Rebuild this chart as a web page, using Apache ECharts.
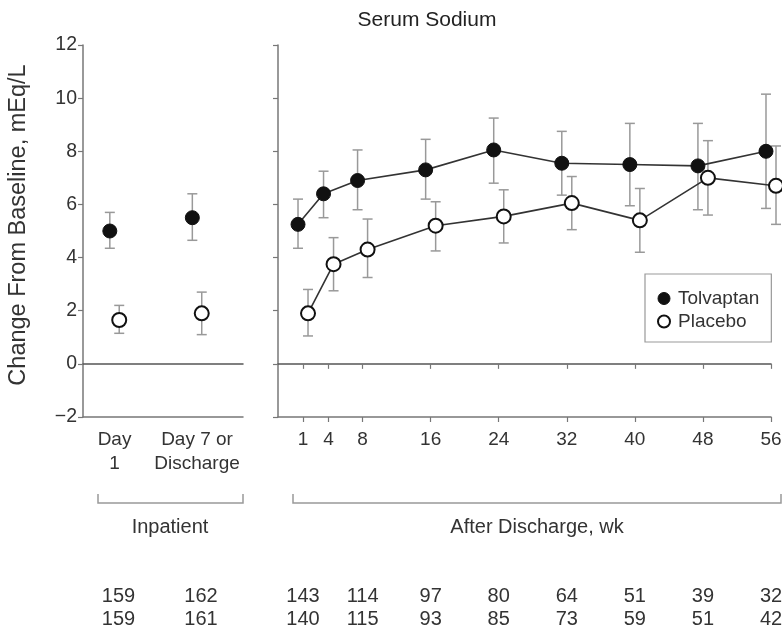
<!DOCTYPE html>
<html>
<head>
<meta charset="utf-8">
<script src="https://cdn.jsdelivr.net/npm/echarts@6/dist/echarts.min.js"></script>
<style>html,body{margin:0;padding:0;background:#fff;}#c{width:782px;height:631px;}</style>
</head>
<body>
<div id="c"></div>
<script>
// ---------- data ----------
const inpatientPos = [1, 2];
const inpatientLabels = ['Day\n1', 'Day 7 or\nDischarge'];
const tolInp = [5.0, 5.5];
const tolInpHi = [5.7, 6.4];
const tolInpLo = [4.35, 4.65];
const plaInp = [1.65, 1.9];
const plaInpHi = [2.2, 2.7];
const plaInpLo = [1.15, 1.1];

const weeks = [1, 4, 8, 16, 24, 32, 40, 48, 56];
const tolWk = [5.25, 6.4, 6.9, 7.3, 8.05, 7.55, 7.5, 7.45, 8.0];
const tolWkHi = [6.2, 7.25, 8.05, 8.45, 9.25, 8.75, 9.05, 9.05, 10.15];
const tolWkLo = [4.35, 5.5, 5.8, 6.2, 6.8, 6.35, 5.95, 5.8, 5.85];
const plaWk = [1.9, 3.75, 4.3, 5.2, 5.55, 6.05, 5.4, 7.0, 6.7];
const plaWkHi = [2.8, 4.75, 5.45, 6.1, 6.55, 7.05, 6.6, 8.4, 8.2];
const plaWkLo = [1.05, 2.75, 3.25, 4.25, 4.55, 5.05, 4.2, 5.6, 5.25];

const nInpTol = [159, 162];
const nInpPla = [159, 161];
const nWeeks = [1, 8, 16, 24, 32, 40, 48, 56];
const nWkTol = [143, 114, 97, 80, 64, 51, 39, 32];
const nWkPla = [140, 115, 93, 85, 73, 59, 51, 42];

// ---------- layout / style ----------
const FONT = 'Liberation Sans, Arial, Helvetica, sans-serif';
const TXT = '#333';
const AX = '#777';
const ERR = '#999';
const LEFT = {min: 0.618, max: 2.557, shift: 0.057};
const RIGHT = {min: -1.94, max: 56, shift: 0.588};

function errRender(params, api) {
  const x = api.value(0), lo = api.value(1), hi = api.value(2);
  const a = api.coord([x, lo]), b = api.coord([x, hi]);
  const w = 5;
  const st = {stroke: ERR, lineWidth: 1.5};
  return {type: 'group', children: [
    {type: 'line', shape: {x1: a[0], y1: a[1], x2: b[0], y2: b[1]}, style: st},
    {type: 'line', shape: {x1: b[0] - w, y1: b[1], x2: b[0] + w, y2: b[1]}, style: st},
    {type: 'line', shape: {x1: a[0] - w, y1: a[1], x2: a[0] + w, y2: a[1]}, style: st}
  ]};
}
const zip = (xs, a) => xs.map((x, i) => [x, a[i]]);
const zip3 = (xs, a, b) => xs.map((x, i) => [x, a[i], b[i]]);

const tolStyle = {color: '#111', borderColor: '#111', borderWidth: 1, opacity: 1};
const plaStyle = {color: '#fff', borderColor: '#111', borderWidth: 2, opacity: 1};

const hiddenX = (g, min, max) => ({type: 'value', gridIndex: g, min, max, show: false,
  axisLine: {onZero: false}});

const chart = echarts.init(document.getElementById('c'), null, {renderer: 'canvas'});
const option = {
  animation: false,
  backgroundColor: '#fff',
  textStyle: {fontFamily: FONT},
  title: {text: 'Serum Sodium', left: 427, top: 10, padding: 0, textAlign: 'center',
    textStyle: {fontSize: 21, fontWeight: 'normal', color: '#222', fontFamily: FONT}},
  legend: {
    orient: 'vertical', left: 645, top: 274,
    padding: [15, 12, 11, 12], itemGap: 4, itemWidth: 12, itemHeight: 12,
    borderColor: '#999', borderWidth: 1.2, icon: 'circle',
    textStyle: {fontSize: 19, color: TXT, fontFamily: FONT, padding: [0, 0, 0, 3]},
    data: [
      {name: 'Tolvaptan', itemStyle: tolStyle},
      {name: 'Placebo', itemStyle: plaStyle}
    ]
  },
  grid: [
    {left: 83, top: 45, width: 160, height: 372, containLabel: false, outerBoundsMode: 'none'},
    {left: 278, top: 45, width: 493, height: 372, containLabel: false, outerBoundsMode: 'none'}
  ],
  xAxis: [
    // 0: left bottom visible axis
    {type: 'value', gridIndex: 0, min: LEFT.min, max: LEFT.max, position: 'bottom',
      axisLine: {onZero: false, lineStyle: {color: AX, width: 1.5}},
      axisTick: {show: false}, splitLine: {show: false},
      axisLabel: {customValues: inpatientPos, margin: 11, fontSize: 19, lineHeight: 24, color: TXT,
        fontFamily: FONT, formatter: v => inpatientLabels[inpatientPos.indexOf(v)] || ''}},
    // 1,2: shifted axes for left grid
    hiddenX(0, LEFT.min + LEFT.shift, LEFT.max + LEFT.shift),
    hiddenX(0, LEFT.min - LEFT.shift, LEFT.max - LEFT.shift),
    // 3: right bottom visible axis
    {type: 'value', gridIndex: 1, min: RIGHT.min, max: RIGHT.max, position: 'bottom',
      axisLine: {onZero: false, lineStyle: {color: AX, width: 1.5}},
      axisTick: {show: true, customValues: weeks, length: 5, inside: false, lineStyle: {color: AX, width: 1.2}},
      splitLine: {show: false},
      axisLabel: {customValues: weeks, margin: 11, fontSize: 19, lineHeight: 24, color: TXT, fontFamily: FONT}},
    // 4,5: shifted axes for right grid
    hiddenX(1, RIGHT.min + RIGHT.shift, RIGHT.max + RIGHT.shift),
    hiddenX(1, RIGHT.min - RIGHT.shift, RIGHT.max - RIGHT.shift),
    // 6: left zero line
    {type: 'value', gridIndex: 0, min: LEFT.min, max: LEFT.max, position: 'bottom',
      axisLine: {onZero: true, onZeroAxisIndex: 0, lineStyle: {color: '#555', width: 1.5}},
      axisTick: {show: false}, axisLabel: {show: false}, splitLine: {show: false}},
    // 7: right zero line with ticks
    {type: 'value', gridIndex: 1, min: RIGHT.min, max: RIGHT.max, position: 'bottom',
      axisLine: {onZero: true, onZeroAxisIndex: 1, lineStyle: {color: '#555', width: 1.5}},
      axisTick: {show: true, customValues: weeks, length: 5, inside: false, lineStyle: {color: AX, width: 1.2}},
      axisLabel: {show: false}, splitLine: {show: false}},
    // 8: left counts
    {type: 'value', gridIndex: 0, min: LEFT.min, max: LEFT.max, position: 'bottom', offset: 160,
      axisLine: {show: false, onZero: false}, axisTick: {show: false}, splitLine: {show: false},
      axisLabel: {customValues: inpatientPos, margin: 8, fontSize: 20, lineHeight: 23, color: TXT,
        fontFamily: FONT, padding: [0, 0, 0, 8],
        formatter: v => { const i = inpatientPos.indexOf(v); return i < 0 ? '' : nInpTol[i] + '\n' + nInpPla[i]; }}},
    // 9: right counts
    {type: 'value', gridIndex: 1, min: RIGHT.min, max: RIGHT.max, position: 'bottom', offset: 160,
      axisLine: {show: false, onZero: false}, axisTick: {show: false}, splitLine: {show: false},
      axisLabel: {customValues: nWeeks, margin: 8, fontSize: 20, lineHeight: 23, color: TXT, fontFamily: FONT,
        formatter: v => { const i = nWeeks.indexOf(v); return i < 0 ? '' : nWkTol[i] + '\n' + nWkPla[i]; }}}
  ],
  yAxis: [
    {type: 'value', gridIndex: 0, min: -2, max: 12, interval: 2,
      name: 'Change From Baseline, mEq/L', nameLocation: 'middle', nameGap: 52,
      nameTextStyle: {fontSize: 23.5, color: TXT, fontFamily: FONT, padding: [0, 0, 0, 12]},
      axisLine: {show: true, onZero: false, lineStyle: {color: AX, width: 1.5}},
      axisTick: {show: true, length: 5, lineStyle: {color: AX, width: 1.2}},
      splitLine: {show: false},
      axisLabel: {fontSize: 19.5, color: TXT, margin: 6, fontFamily: FONT,
        formatter: v => String(v).replace('-', '\u2212')}},
    {type: 'value', gridIndex: 1, min: -2, max: 12, interval: 2,
      axisLine: {show: true, onZero: false, lineStyle: {color: AX, width: 1.5}},
      axisTick: {show: true, length: 5, lineStyle: {color: AX, width: 1.2}},
      splitLine: {show: false}, axisLabel: {show: false}}
  ],
  series: [
    // error bars
    {type: 'custom', name: 'tolInpErr', xAxisIndex: 1, yAxisIndex: 0, renderItem: errRender,
      encode: {x: 0, y: [1, 2]}, data: zip3(inpatientPos, tolInpLo, tolInpHi), z: 1, silent: true, clip: false},
    {type: 'custom', name: 'plaInpErr', xAxisIndex: 2, yAxisIndex: 0, renderItem: errRender,
      encode: {x: 0, y: [1, 2]}, data: zip3(inpatientPos, plaInpLo, plaInpHi), z: 1, silent: true, clip: false},
    {type: 'custom', name: 'tolWkErr', xAxisIndex: 4, yAxisIndex: 1, renderItem: errRender,
      encode: {x: 0, y: [1, 2]}, data: zip3(weeks, tolWkLo, tolWkHi), z: 1, silent: true, clip: false},
    {type: 'custom', name: 'plaWkErr', xAxisIndex: 5, yAxisIndex: 1, renderItem: errRender,
      encode: {x: 0, y: [1, 2]}, data: zip3(weeks, plaWkLo, plaWkHi), z: 1, silent: true, clip: false},
    // inpatient points
    {type: 'scatter', name: 'Tolvaptan', xAxisIndex: 1, yAxisIndex: 0, symbol: 'circle', symbolSize: 14,
      itemStyle: tolStyle, data: zip(inpatientPos, tolInp), z: 5},
    {type: 'scatter', name: 'Placebo', xAxisIndex: 2, yAxisIndex: 0, symbol: 'circle', symbolSize: 14,
      itemStyle: plaStyle, data: zip(inpatientPos, plaInp), z: 5},
    // post-discharge lines
    {type: 'line', name: 'Tolvaptan', xAxisIndex: 4, yAxisIndex: 1, symbol: 'circle', symbolSize: 14,
      showAllSymbol: true, clip: false, itemStyle: tolStyle, lineStyle: {color: '#333', width: 1.6},
      data: zip(weeks, tolWk), z: 4},
    {type: 'line', name: 'Placebo', xAxisIndex: 5, yAxisIndex: 1, symbol: 'circle', symbolSize: 14,
      showAllSymbol: true, clip: false, itemStyle: plaStyle, lineStyle: {color: '#333', width: 1.6},
      data: zip(weeks, plaWk), z: 4}
  ],
  graphic: [
    {type: 'polyline', shape: {points: [[98, 494], [98, 503], [243, 503], [243, 494]]},
      style: {stroke: '#999', lineWidth: 1.5, fill: null}},
    {type: 'polyline', shape: {points: [[293, 494], [293, 503], [781, 503], [781, 494]]},
      style: {stroke: '#999', lineWidth: 1.5, fill: null}},
    {type: 'text', x: 170, y: 527, style: {text: 'Inpatient', fontSize: 20, fill: TXT, fontFamily: FONT,
      align: 'center', verticalAlign: 'middle'}},
    {type: 'text', x: 537, y: 527, style: {text: 'After Discharge, wk', fontSize: 20, fill: TXT, fontFamily: FONT,
      align: 'center', verticalAlign: 'middle'}}
  ]
};
chart.setOption(option);
</script>
</body>
</html>
